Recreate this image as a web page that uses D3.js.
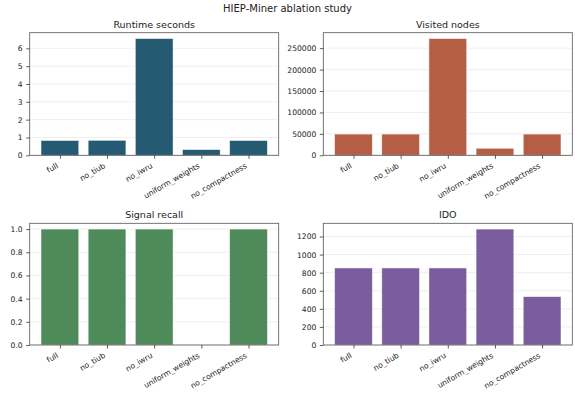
<!DOCTYPE html>
<html><head><meta charset="utf-8">
<script src="https://cdn.jsdelivr.net/npm/d3@7"></script>
<style>body{margin:0;background:#fff}svg{display:block;font-family:"DejaVu Sans",sans-serif}</style>
</head><body>
<svg id="c" width="575" height="394"></svg>
<script>
const categories = ["full","no_tiub","no_iwru","uniform_weights","no_compactness"];
const runtimeSeconds = [0.83,0.84,6.55,0.32,0.83];
const visitedNodes = [49500,49500,272400,16400,49500];
const signalRecall = [1.0,1.0,1.0,0.0,1.0];
const ido = [852,852,852,1282,535];
const runtimeTicks = [0,1,2,3,4,5,6];
const visitedTicks = [0,50000,100000,150000,200000,250000];
const recallTicks = [0,0.2,0.4,0.6,0.8,1.0];
const idoTicks = [0,200,400,600,800,1000,1200];
const suptitle = "HIEP-Miner ablation study";

const panels = [
  {title:"Runtime seconds", values:runtimeSeconds, ticks:runtimeTicks, fmt:d3.format("d"), color:"#245b72", x0:29.7, x1:278.7, y0:32.7, y1:155.3},
  {title:"Visited nodes", values:visitedNodes, ticks:visitedTicks, fmt:d3.format("d"), color:"#b45f45", x0:323.3, x1:572.3, y0:32.7, y1:155.3},
  {title:"Signal recall", values:signalRecall, ticks:recallTicks, fmt:d3.format(".1f"), color:"#4e8a5a", x0:29.7, x1:278.7, y0:223.3, y1:345},
  {title:"IDO", values:ido, ticks:idoTicks, fmt:d3.format("d"), color:"#7a5d9c", x0:323.3, x1:572.3, y0:223.3, y1:345}
];

const svg = d3.select("#c");
svg.append("text").attr("x",287.5).attr("y",12).attr("text-anchor","middle")
  .attr("font-size",10).attr("fill","#222").text(suptitle);

panels.forEach(p=>{
  const g = svg.append("g");
  const xb = d3.scaleBand().domain(categories).range([p.x0,p.x1]);
  // emulate matplotlib: bars width 0.8, 5% margins
  const n = categories.length;
  const lo = -0.4, hi = n-1+0.4, span = hi-lo;
  const xs = d3.scaleLinear().domain([lo-0.05*span, hi+0.05*span]).range([p.x0,p.x1]);
  const ymax = d3.max(p.values)*1.05;
  const y = d3.scaleLinear().domain([0,ymax]).range([p.y1,p.y0]);

  // grid
  g.selectAll("line.grid").data(p.ticks).join("line")
    .attr("x1",p.x0).attr("x2",p.x1).attr("y1",d=>y(d)).attr("y2",d=>y(d))
    .attr("stroke","#ebebeb").attr("stroke-width",0.8);

  // bars
  g.selectAll("rect.bar").data(p.values).join("rect")
    .attr("x",(d,i)=>xs(i-0.4)).attr("width",(d,i)=>xs(i+0.4)-xs(i-0.4))
    .attr("y",d=>y(d)).attr("height",d=>p.y1-y(d))
    .attr("fill",p.color).attr("stroke","#ffffff").attr("stroke-opacity",0.6).attr("stroke-width",0.8);

  // frame
  g.append("rect").attr("x",p.x0).attr("y",p.y0).attr("width",p.x1-p.x0).attr("height",p.y1-p.y0)
    .attr("fill","none").attr("stroke","#555").attr("stroke-width",0.8);

  // y axis
  const ya = d3.axisLeft(y).tickValues(p.ticks).tickFormat(p.fmt).tickSize(3.5).tickPadding(3.5);
  const yg = g.append("g").attr("transform",`translate(${p.x0},0)`).call(ya);
  yg.select(".domain").remove();
  yg.selectAll(".tick line").attr("stroke","#333").attr("stroke-width",0.8);
  yg.selectAll(".tick text").attr("font-size",7.6).attr("fill","#222").attr("font-family","DejaVu Sans");

  // x axis
  const xa = d3.axisBottom(d3.scalePoint().domain(categories).range([xs(0),xs(n-1)])).tickSize(3.5).tickFormat("");
  const xg = g.append("g").attr("transform",`translate(0,${p.y1})`).call(xa);
  xg.select(".domain").remove();
  xg.selectAll(".tick line").attr("stroke","#333").attr("stroke-width",0.8);
  categories.forEach((c,i)=>{
    g.append("text").attr("transform",`translate(${xs(i)-4},${p.y1+7}) rotate(-30)`)
      .attr("text-anchor","end").attr("dy","0.75em").attr("font-size",7.6).attr("fill","#222").text(c);
  });

  // title
  svg.append("text").attr("x",(p.x0+p.x1)/2).attr("y",p.y0-5).attr("text-anchor","middle")
    .attr("font-size",9.5).attr("fill","#222").text(p.title);
});
</script>
</body></html>
